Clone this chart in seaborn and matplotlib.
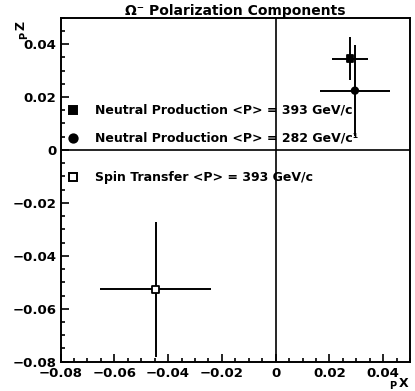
"""Omega- polarization components: P_x vs P_z with error bars."""

import numpy as np
import pandas as pd
import matplotlib
matplotlib.use("Agg")
import matplotlib.pyplot as plt
import matplotlib.ticker as mticker
import seaborn as sns

# data
labels = ["Neutral Production <P> = 393 GeV/c",
          "Neutral Production <P> = 282 GeV/c¹",
          "Spin Transfer <P> = 393 GeV/c"]
px = [0.0277, 0.0295, -0.0446]
pz = [0.0345, 0.0224, -0.0527]
px_err = [0.0068, 0.0130, 0.0207]
pz_err = [0.0080, 0.0171, 0.0255]
markers = ["s", "o", "s"]
faces = ["black", "black", "white"]

# legend rows (data coordinates)
leg_y = [0.0152, 0.0046, -0.0103]

df = pd.DataFrame({"label": labels, "px": px, "pz": pz})

sns.set_theme(style="ticks")
plt.rcParams["font.family"] = ["DejaVu Sans"]
plt.rcParams["font.weight"] = "bold"
for key in ["text.color", "axes.labelcolor", "xtick.color", "ytick.color", "axes.edgecolor"]:
    plt.rcParams[key] = "black"

fig = plt.figure(figsize=(4.15, 3.91), dpi=100)
ax = fig.add_axes([0.146, 0.075, 0.842, 0.880])

ax.axhline(0, color="black", lw=1.2, zorder=1)
ax.axvline(0, color="black", lw=1.2, zorder=1)

ax.errorbar(px, pz, xerr=px_err, yerr=pz_err, fmt="none",
            ecolor="black", elinewidth=1.4, capsize=0, zorder=2)
sns.scatterplot(data=df, x="px", y="pz", style="label", hue="label",
                markers=dict(zip(labels, markers)),
                palette=dict(zip(labels, faces)),
                edgecolor="black", linewidth=1.3, s=22, legend=False,
                ax=ax, zorder=3)

# hand-made legend inside the plot
for lab, m, fc, yy in zip(labels, markers, faces, leg_y):
    ax.plot(-0.0755, yy, marker=m, ms=6, mfc=fc, mec="black", mew=1.4,
            ls="none", zorder=3)
    ax.text(-0.0672, yy, lab, fontsize=9, fontweight="bold",
            va="center", ha="left")

ax.set_xlim(-0.08, 0.05)
ax.set_ylim(-0.08, 0.05)
ax.xaxis.set_major_locator(mticker.MultipleLocator(0.02))
ax.xaxis.set_minor_locator(mticker.MultipleLocator(0.005))
ax.yaxis.set_major_locator(mticker.MultipleLocator(0.02))
ax.yaxis.set_minor_locator(mticker.MultipleLocator(0.005))
fmt = mticker.FuncFormatter(lambda v, p: "0" if abs(v) < 1e-9 else f"{v:.2f}".replace("-", "\u2212"))
ax.xaxis.set_major_formatter(fmt)
ax.yaxis.set_major_formatter(fmt)
ax.tick_params(which="both", direction="in", top=False, right=False,
               labelsize=9.5, width=1.2, color="black", labelcolor="black")
ax.tick_params(which="major", length=6, pad=3)
ax.tick_params(axis="x", which="major", pad=4)
ax.tick_params(which="minor", length=3)
for lbl in ax.get_xticklabels() + ax.get_yticklabels():
    lbl.set_fontweight("bold")
for sp in ax.spines.values():
    sp.set_linewidth(1.4)
    sp.set_color("black")

ax.set_xlabel("")
ax.set_ylabel("")
ax.set_title("Ω⁻ Polarization Components", fontsize=10, fontweight="bold",
             pad=1, color="black")

# axis labels in the corners, as in the original
fig.text(0.937, 0.004, "P", fontsize=7, fontweight="bold")
fig.text(0.962, 0.010, "X", fontsize=9, fontweight="bold")
fig.text(0.045, 0.905, "P", fontsize=7, fontweight="bold", rotation=90)
fig.text(0.035, 0.93, "Z", fontsize=9, fontweight="bold", rotation=90)

fig.savefig("out.png", dpi=100)
